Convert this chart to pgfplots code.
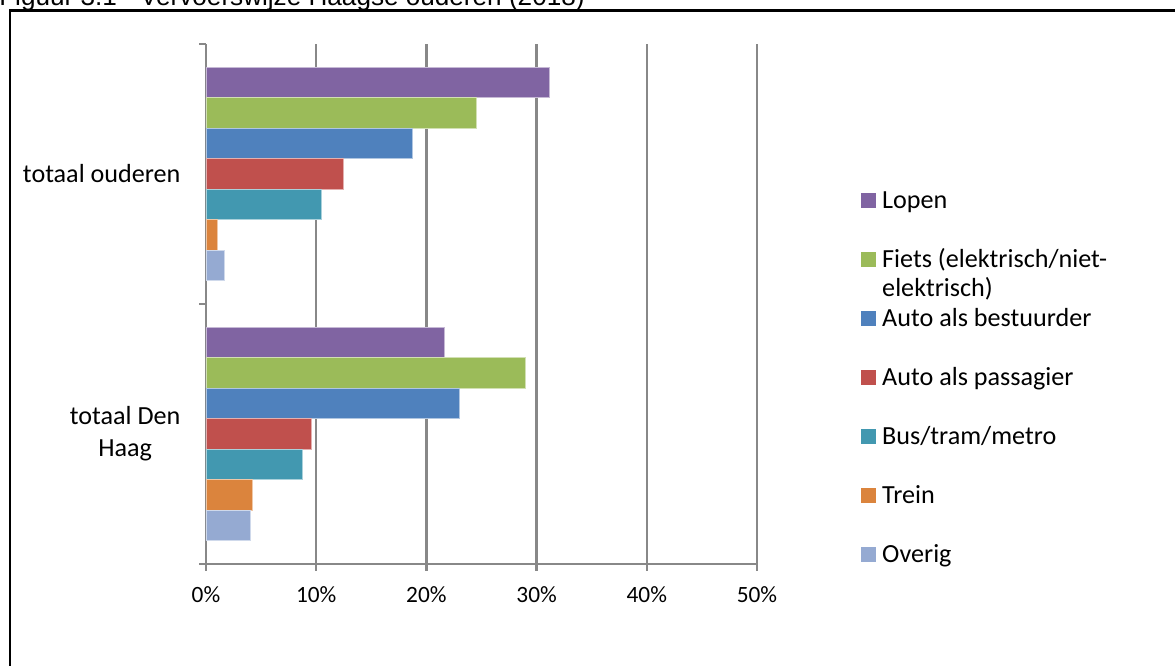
\documentclass[border=0pt]{standalone}
\usepackage{pgfplots}
\pgfplotsset{compat=1.18}
\usepackage{fontspec}
\setmainfont{Carlito}
\newfontfamily\arialfont{Liberation Sans}
\definecolor{cLopen}{HTML}{8064A2}
\definecolor{cFiets}{HTML}{9BBB59}
\definecolor{cAutoB}{HTML}{4F81BD}
\definecolor{cAutoP}{HTML}{C0504D}
\definecolor{cBus}{HTML}{4298B0}
\definecolor{cTrein}{HTML}{DB843D}
\definecolor{cOverig}{HTML}{95AAD2}
\definecolor{gridgray}{HTML}{888888}
\pgfplotsset{
  sqleg/.style={legend image code/.code={\fill[##1,draw=none] (0pt,-4.7pt) rectangle (11.25pt,6.55pt);}}
}
\begin{document}
\begin{tikzpicture}
\useasboundingbox (0,0) rectangle (881.25pt,499.5pt);
\node[anchor=base west, inner sep=0pt, font=\arialfont\fontsize{19.6pt}{23pt}\selectfont] at (-0.75pt,495.5pt) {Figuur 3.1 - Vervoerswijze Haagse ouderen (2018)};
\draw[line width=1.75pt] (7.5pt,-20pt) -- (7.5pt,491.6pt) -- (900pt,491.6pt);
\begin{axis}[
  at={(154.5pt,76.5pt)}, anchor=south west,
  scale only axis, width=413.25pt, height=390.2pt,
  xbar, bar width=0.1172,
  xmin=0, xmax=50, ymin=-0.5, ymax=1.5,
  xtick={0,10,20,30,40,50},
  xticklabels={0\%,10\%,20\%,30\%,40\%,50\%},
  ytick={-0.5,0.5,1.5}, yticklabels={},
  extra y ticks={0,1},
  extra y tick labels={{totaal Den\\Haag},{totaal ouderen}},
  extra y tick style={major tick length=0pt},
  yticklabel style={font=\fontsize{19.6pt}{23.75pt}\selectfont, align=center, inner sep=0pt, xshift=-19pt},
  xticklabel style={font=\fontsize{17.5pt}{21pt}\selectfont, inner sep=0pt, yshift=-12pt},
  tick align=outside, major tick length=5pt,
  tick style={gridgray, line width=1.7pt},
  axis x line*=bottom, axis y line*=left,
  axis line style={gridgray, line width=1.7pt},
  xmajorgrids, major grid style={gridgray, line width=1.7pt},
  legend style={at={(1.1887,0.356)}, anchor=west, draw=none, fill=none, inner sep=0pt,
    row sep=25.75pt, font=\fontsize{19.6pt}{23pt}\selectfont,
    nodes={inner xsep=4.5pt, inner ysep=0pt, text height=14pt, text depth=4.5pt}},
  legend cell align=left,
]
\addplot[fill=cLopen, draw=cLopen!45!white, line width=0.5pt, bar shift=0.3516, sqleg] coordinates {(31.2,1) (21.6,0)};
\addplot[fill=cFiets, draw=cFiets!45!white, line width=0.5pt, bar shift=0.2344, sqleg] coordinates {(24.5,1) (29.0,0)};
\addplot[fill=cAutoB, draw=cAutoB!45!white, line width=0.5pt, bar shift=0.1172, sqleg] coordinates {(18.7,1) (23.0,0)};
\addplot[fill=cAutoP, draw=cAutoP!45!white, line width=0.5pt, bar shift=0, sqleg] coordinates {(12.5,1) (9.6,0)};
\addplot[fill=cBus, draw=cBus!45!white, line width=0.5pt, bar shift=-0.1172, sqleg] coordinates {(10.5,1) (8.75,0)};
\addplot[fill=cTrein, draw=cTrein!45!white, line width=0.5pt, bar shift=-0.2344, sqleg] coordinates {(1.0,1) (4.2,0)};
\addplot[fill=cOverig, draw=cOverig!45!white, line width=0.5pt, bar shift=-0.3516, sqleg] coordinates {(1.7,1) (4.0,0)};
\legend{Lopen, {\rlap{\raisebox{-22pt}[0pt][0pt]{elektrisch)}}Fiets (elektrisch/niet-}, Auto als bestuurder, Auto als passagier, Bus/tram/metro, Trein, Overig}
\end{axis}
\end{tikzpicture}
\end{document}
